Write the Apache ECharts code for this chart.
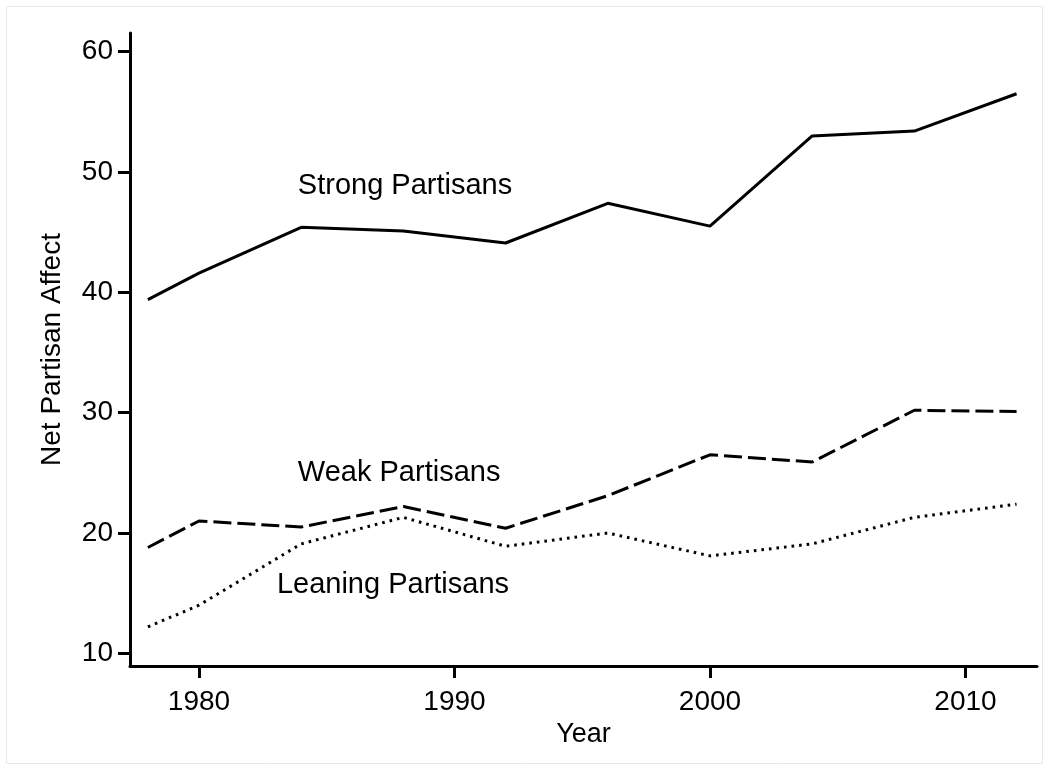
<!DOCTYPE html>
<html>
<head>
  <meta charset="utf-8">
  <title>Net Partisan Affect</title>
  <style>
    html, body { margin: 0; padding: 0; background: #fff; }
    #main { width: 1049px; height: 770px; }
  </style>
</head>
<body>
  <div id="main"></div>
</body>
<script src="https://cdn.jsdelivr.net/npm/echarts@6/dist/echarts.min.js"></script>
<script>
let myChart = echarts.init(document.querySelector('#main'))

// survey years
let years = [1978, 1980, 1984, 1988, 1992, 1996, 2000, 2004, 2008, 2012]
let strong = [39.4, 41.6, 45.4, 45.1, 44.1, 47.4, 45.5, 53.0, 53.4, 56.5]
let weak = [18.8, 21.0, 20.5, 22.2, 20.4, 23.1, 26.5, 25.9, 30.2, 30.1]
let leaning = [12.2, 14.0, 19.1, 21.3, 18.9, 20.0, 18.1, 19.1, 21.3, 22.4]

let yTicks = [10, 20, 30, 40, 50, 60]
let xTicks = [1980, 1990, 2000, 2010]

// in-plot labels: [year, value, text]
let seriesLabels = [
    [1983.87, 48.8, 'Strong Partisans'],
    [1983.87, 25.0, 'Weak Partisans'],
    [1983.05, 15.7, 'Leaning Partisans']
]

const font = '"Liberation Sans", Arial, sans-serif'

function pairs(vals) {
    return years.map((y, i) => [y, vals[i]])
}

let option = {
    backgroundColor: '#fff',
    animation: false,
    textStyle: { fontFamily: font, color: '#000' },
    graphic: [{
        type: 'rect',
        shape: { x: 6.5, y: 6.5, width: 1036, height: 757 },
        style: { fill: 'none', stroke: '#e4ebeb', lineWidth: 1 },
        silent: true
    }],
    grid: {
        left: 130,
        right: 12,
        top: 33,
        bottom: 104
    },
    xAxis: {
        type: 'value',
        min: 1977.3,
        max: 2012.8,
        name: 'Year',
        nameLocation: 'middle',
        nameGap: 47,
        nameTextStyle: { fontSize: 27, color: '#000', fontFamily: font },
        splitLine: { show: false },
        axisLine: { onZero: false, lineStyle: { color: '#000', width: 3 } },
        axisTick: { customValues: xTicks, length: 12, lineStyle: { color: '#000', width: 3 } },
        axisLabel: {
            customValues: xTicks,
            margin: 22,
            fontSize: 28,
            color: '#000',
            fontFamily: font,
            formatter: v => String(v)
        }
    },
    yAxis: {
        type: 'value',
        min: 8.95,
        max: 61.55,
        name: 'Net Partisan Affect',
        nameLocation: 'middle',
        nameRotate: 90,
        nameGap: 64,
        nameTextStyle: { fontSize: 28, color: '#000', fontFamily: font },
        splitLine: { show: false },
        axisLine: { show: true, onZero: false, lineStyle: { color: '#000', width: 3 } },
        axisTick: { show: true, customValues: yTicks, length: 12, lineStyle: { color: '#000', width: 3 } },
        axisLabel: { customValues: yTicks, margin: 17, fontSize: 28, color: '#000', fontFamily: font }
    },
    series: [
        {
            name: 'Strong Partisans',
            type: 'line',
            symbol: 'none',
            lineStyle: { color: '#000', width: 3 },
            data: pairs(strong)
        },
        {
            name: 'Weak Partisans',
            type: 'line',
            symbol: 'none',
            lineStyle: { color: '#000', width: 3, type: [18, 6] },
            data: pairs(weak)
        },
        {
            name: 'Leaning Partisans',
            type: 'line',
            symbol: 'none',
            lineStyle: { color: '#000', width: 3, type: [2.6, 5] },
            data: pairs(leaning)
        },
        {
            type: 'scatter',
            symbolSize: 0,
            silent: true,
            itemStyle: { opacity: 1, color: '#000' },
            label: {
                show: true,
                position: 'right',
                distance: 0,
                fontSize: 29,
                color: '#000',
                opacity: 1,
                fontFamily: font,
                formatter: p => p.data[2]
            },
            data: seriesLabels
        }
    ]
}
myChart.setOption(option)
</script>
</html>
